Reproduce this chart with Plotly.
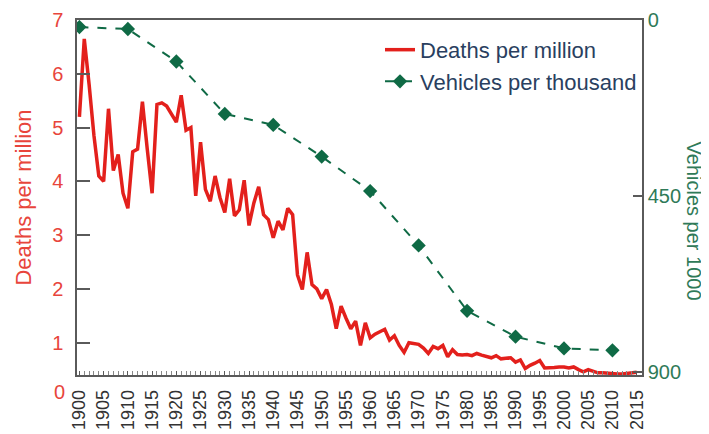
import plotly.graph_objects as go

years = list(range(1900, 2016))
deaths_per_million = [
    5.2, 6.65, 5.8, 4.85, 4.1, 4.0, 5.35, 4.2, 4.5, 3.78,
    3.5, 4.55, 4.6, 5.48, 4.6, 3.78, 5.43, 5.46, 5.4, 5.25,
    5.1, 5.6, 4.95, 5.0, 3.73, 4.73, 3.85, 3.63, 4.1, 3.7,
    3.42, 4.05, 3.36, 3.47, 4.02, 3.18, 3.6, 3.9, 3.38, 3.29,
    2.95, 3.26, 3.1, 3.5, 3.38, 2.26, 1.99, 2.68, 2.08, 2.0,
    1.82, 1.99, 1.71, 1.26, 1.68, 1.46, 1.26, 1.4, 0.95, 1.37,
    1.09, 1.16, 1.2, 1.25, 1.05, 1.13, 0.95, 0.82, 1.0, 0.98,
    0.97, 0.9, 0.8, 0.93, 0.89, 0.95, 0.74, 0.87, 0.78, 0.77,
    0.78, 0.76, 0.8, 0.77, 0.75, 0.72, 0.76, 0.7, 0.71, 0.72,
    0.64, 0.68, 0.52, 0.58, 0.62, 0.67, 0.53, 0.53, 0.54, 0.55,
    0.55, 0.53, 0.55, 0.5, 0.46, 0.5, 0.47, 0.44, 0.44, 0.43,
    0.43, 0.42, 0.42, 0.43, 0.44, 0.45,
]

vehicle_years = [1900, 1910, 1920, 1930, 1940, 1950, 1960, 1970, 1980, 1990, 2000, 2010]
vehicles_per_thousand = [18, 23, 106, 240, 268, 349, 437, 576, 743, 809, 839, 844]

x_ticks = list(range(1900, 2016, 5))
left_ticks = [1, 2, 3, 4, 5, 6, 7]
right_ticks = [0, 450, 900]

RED = "#e3201c"
RED_TEXT = "#e8453c"
GREEN = "#0f6a45"
GREEN_TEXT = "#2f7a58"
AXIS = "#5a5a5a"
FONT = "Arial, Liberation Sans, sans-serif"

# the page body keeps its default 8px margin, so the figure is drawn 8px in
# from the top-left corner of the window; size it to fit what is left
PAGE_OFFSET = 8

fig = go.Figure()
fig.add_trace(
    go.Scatter(
        x=years,
        y=deaths_per_million,
        name="Deaths per million",
        mode="lines",
        line={"color": RED, "width": 3.5},
        yaxis="y",
    )
)
fig.add_trace(
    go.Scatter(
        x=vehicle_years,
        y=vehicles_per_thousand,
        name="Vehicles per thousand",
        mode="lines+markers",
        line={"color": GREEN, "width": 2, "dash": "dash"},
        marker={"symbol": "diamond", "size": 11, "color": GREEN},
        yaxis="y2",
    )
)

fig.update_layout(
    width=709 - PAGE_OFFSET,
    height=434 - PAGE_OFFSET,
    autosize=False,
    margin=dict(l=77 - PAGE_OFFSET, r=67, t=20 - PAGE_OFFSET, b=59),
    plot_bgcolor="white",
    paper_bgcolor="white",
    font=dict(family=FONT),
    showlegend=True,
    legend=dict(
        x=1.0,
        y=0.975,
        xanchor="right",
        yanchor="top",
        bgcolor="rgba(0,0,0,0)",
        font=dict(size=22),
        tracegroupgap=0,
    ),
    xaxis=dict(
        range=[1899.5, 2016.1],
        tickvals=x_ticks,
        tickangle=-90,
        ticks="inside",
        ticklen=4,
        tickcolor=AXIS,
        tickfont=dict(size=18, color="#333333"),
        ticklabelstandoff=6,
        minor=dict(ticks="inside", dtick=1, tick0=1900, ticklen=4, tickcolor="#888888"),
        showline=True,
        linecolor=AXIS,
        linewidth=1.5,
        mirror=True,
        showgrid=False,
        zeroline=False,
        automargin=False,
    ),
    yaxis=dict(
        range=[0.4, 7],
        tickvals=left_ticks,
        ticks="inside",
        ticklen=13,
        tickwidth=1.5,
        tickcolor=AXIS,
        tickfont=dict(size=20, color=RED_TEXT),
        ticklabelstandoff=8,
        ticklabeloverflow="allow",
        title=dict(text="Deaths per million", font=dict(size=22, color=RED_TEXT), standoff=14),
        showline=True,
        linecolor=AXIS,
        linewidth=1.5,
        showgrid=False,
        zeroline=False,
        automargin=False,
    ),
    yaxis2=dict(
        range=[907, 0],
        tickvals=right_ticks,
        overlaying="y",
        side="right",
        ticks="inside",
        ticklen=9,
        tickwidth=1.5,
        tickcolor=AXIS,
        tickfont=dict(size=20, color=GREEN_TEXT),
        ticklabeloverflow="allow",
        showline=True,
        linecolor=AXIS,
        linewidth=1.5,
        showgrid=False,
        zeroline=False,
        automargin=False,
    ),
)

# the "0" of the left axis sits below the plot frame in the original
fig.add_annotation(
    x=0, xref="paper", xanchor="right", xshift=-10,
    y=-0.048, yref="paper", yanchor="middle",
    text="0", showarrow=False,
    font=dict(size=20, color=RED_TEXT, family=FONT),
)
# right axis title reads top to bottom
fig.add_annotation(
    x=1, xref="paper", xanchor="center", xshift=52,
    y=0.435, yref="paper", yanchor="middle",
    text="Vehicles per 1000", textangle=90, showarrow=False,
    font=dict(size=20, color=GREEN_TEXT, family=FONT),
)

fig.write_html("out.html")
